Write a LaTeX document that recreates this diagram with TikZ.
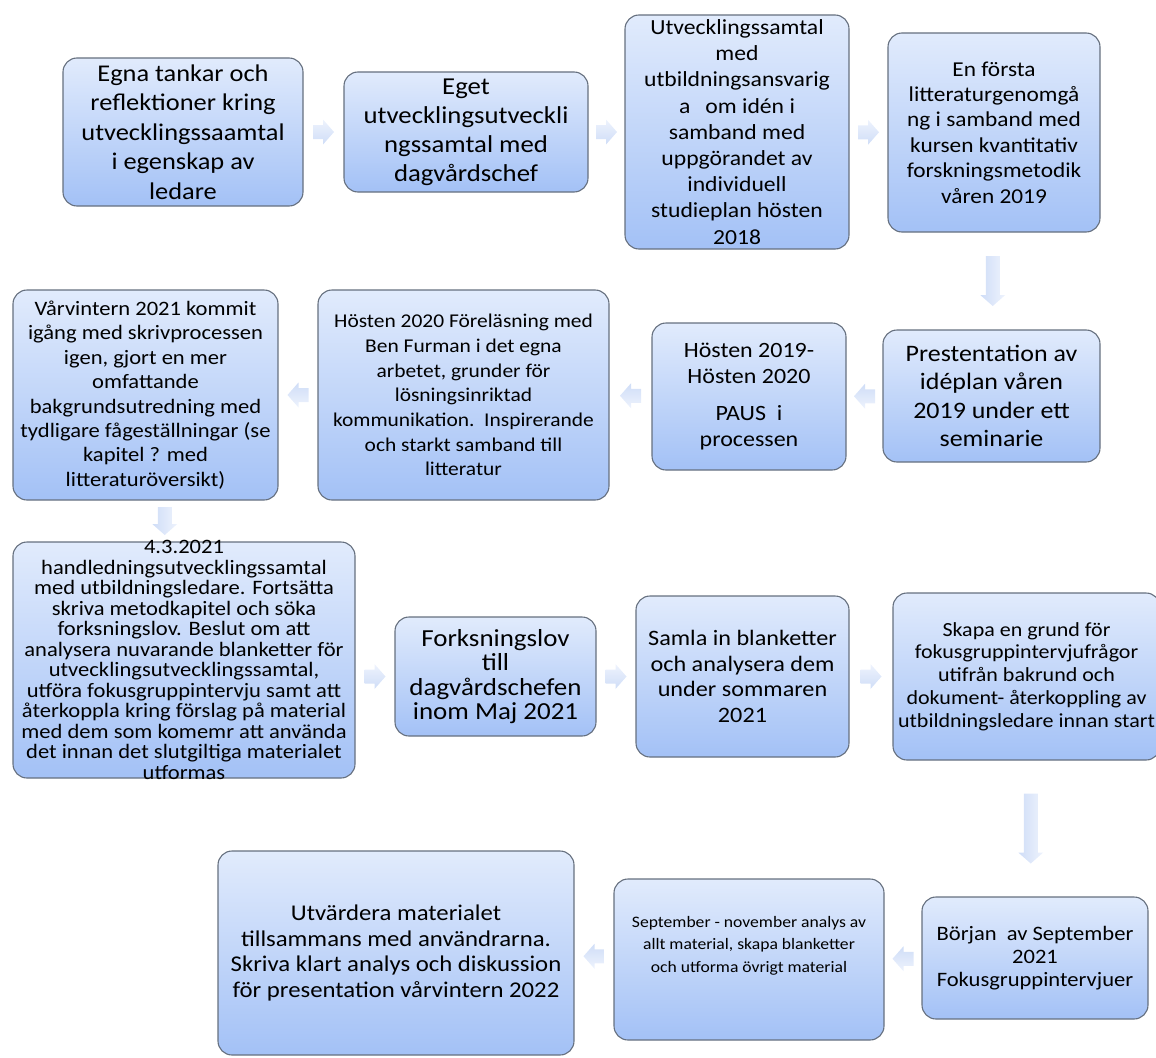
\documentclass[tikz,border=0pt]{standalone}
\usepackage{fontspec}
\setmainfont{Carlito}[FakeStretch=1.1]
\usetikzlibrary{calc}

\definecolor{boxtop}{HTML}{E1EBFC}
\definecolor{boxbot}{HTML}{A3C1F6}
\definecolor{boxline}{HTML}{66707F}
\definecolor{arrowtail}{HTML}{EEF3FD}
\definecolor{arrowhead}{HTML}{CFDDF7}

\newcommand\setfs[2]{\fontsize{#1}{#2}\selectfont}

\tikzset{
  box/.style={draw=boxline, line width=1.1pt, rounded corners=14pt,
    top color=boxtop, bottom color=boxbot, inner sep=0pt},
  txt/.style={align=center, inner sep=0pt, text=black},
  % block arrow of length #1 along +x, centred on the origin;
  % #2 turns the tail-to-head shading to follow the arrow
  pics/blk/.style args={#1/#2}{code={
    \shade[left color=arrowtail, right color=arrowhead, shading angle=#2]
      (-#1/2,-7) -- (#1/2-11,-7) -- (#1/2-11,-12.5) -- (#1/2,0)
      -- (#1/2-11,12.5) -- (#1/2-11,7) -- (-#1/2,7) -- cycle;}}
}

\begin{document}
\begin{tikzpicture}[x=1pt,y=-1pt]
\useasboundingbox (0,0) rectangle (1156,1057);

% ---- boxes ----
\node[box, minimum width=240, minimum height=148] (b1)  at (183,132)    {};
\node[box, minimum width=244, minimum height=120] (b2)  at (466,132)    {};
\node[box, minimum width=224, minimum height=234] (b3)  at (737,132)    {};
\node[box, minimum width=212, minimum height=199] (b4)  at (994,132.5)  {};
\node[box, minimum width=217, minimum height=132] (b5)  at (991.5,396)  {};
\node[box, minimum width=194, minimum height=147] (b6)  at (749,396.5)  {};
\node[box, minimum width=291, minimum height=210] (b7)  at (463.5,395)  {};
\node[box, minimum width=265, minimum height=210] (b8)  at (145.5,395)  {};
\node[box, minimum width=342, minimum height=236] (b9)  at (184,660)    {};
\node[box, minimum width=201, minimum height=119] (b10) at (495.5,676.5){};
\node[box, minimum width=213, minimum height=161] (b11) at (742.5,676.5){};
\node[box, minimum width=267, minimum height=167] (b12) at (1026.5,676.5){};
\node[box, minimum width=226, minimum height=122] (b13) at (1035,958)   {};
\node[box, minimum width=270, minimum height=161] (b14) at (749,959.5)  {};
\node[box, minimum width=356, minimum height=204] (b15) at (396,953)    {};

% ---- texts ----
\node[txt, font=\setfs{24}{29.5}] (t1) at (b1)
  {Egna tankar och\\reflektioner kring\\utvecklingssaamtal\\i egenskap av\\ledare};
\node[txt, font=\setfs{24.3}{29}] (t2) at (b2)
  {Eget\\utvecklingsutveckli\\ngssamtal med\\dagvårdschef};
\node[txt, font=\setfs{21.5}{26.2}] (t3) at (b3)
  {Utvecklingssamtal\\med\\utbildningsansvarig\\a\hspace{0.7em}om idén i\\samband med\\uppgörandet av\\individuell\\studieplan hösten\\2018};
\node[txt, font=\setfs{21.2}{25.4}] (t4) at (b4)
  {En första\\litteraturgenomgå\\ng i samband med\\kursen kvantitativ\\forskningsmetodik\\våren 2019};
\node[txt, font=\setfs{23.6}{28.3}] (t5) at (b5)
  {Prestentation av\\idéplan våren\\2019 under ett\\seminarie};
\node[txt, font=\setfs{21.8}{26}] (t6) at (b6)
  {Hösten 2019-\\Hösten 2020\\[11pt]PAUS\ \ i\\processen};
\node[txt, font=\setfs{19.5}{24.7}] (t7) at (b7)
  {Hösten 2020 Föreläsning med\\Ben Furman i det egna\\arbetet, grunder för\\lösningsinriktad\\kommunikation.\ \ Inspirerande\\och starkt samband till\\litteratur};
\node[txt, font=\setfs{20.5}{24.4}] (t8) at (b8)
  {Vårvintern 2021 kommit\\igång med skrivprocessen\\igen, gjort en mer\\omfattande\\bakgrundsutredning med\\tydligare fågeställningar (se\\kapitel ? med\\litteraturöversikt)};
\node[txt, font=\setfs{20.5}{20.5}] (t9) at (b9)
  {4.3.2021\\handledningsutvecklingssamtal\\med utbildningsledare. Fortsätta\\skriva metodkapitel och söka\\forksningslov. Beslut om att\\analysera nuvarande blanketter för\\utvecklingsutvecklingssamtal,\\utföra fokusgruppintervju samt att\\återkoppla kring förslag på material\\med dem som komemr att använda\\det innan det slutgiltiga materialet\\utformas};
\node[txt, font=\setfs{24.5}{24.5}] (t10) at (b10)
  {Forksningslov\\till\\dagvårdschefen\\inom Maj 2021};
\node[txt, font=\setfs{22}{25.7}] (t11) at (b11)
  {Samla in blanketter\\och analysera dem\\under sommaren\\2021};
\node[txt, font=\setfs{20}{22.8}] (t12) at (b12)
  {Skapa en grund för\\fokusgruppintervjufrågor\\utifrån bakrund och\\dokument- återkoppling av\\utbildningsledare innan start};
\node[txt, font=\setfs{20.5}{22.8}] (t13) at (b13)
  {Början\ \ av September\\2021\\Fokusgruppintervjuer};
\node[txt, font=\setfs{16}{22.5}] (t14) at ($(b14.center)+(0,-14)$)
  {September - november analys av\\allt material, skapa blanketter\\och utforma övrigt material};
\node[txt, font=\setfs{22.5}{25.6}] (t15) at (b15)
  {Utvärdera materialet\\tillsammans med användrarna.\\Skriva klart analys och diskussion\\för presentation vårvintern 2022};

% ---- block arrows between the steps ----
\pic at ($(b1.east)!0.5!(b2.west)$) {blk=21/0};
\pic at ($(b2.east)!0.5!(b3.west)$) {blk=21/0};
\pic at ($(b3.east)!0.5!(b4.west)$) {blk=21/0};
\pic[rotate=-90] at ($(b4.south)!0.5!(b5.north)$) {blk=50/-90};
\pic[rotate=180] at ($(b5.west)!0.5!(b6.east)$) {blk=21/180};
\pic[rotate=180] at ($(b6.west)!0.5!(b7.east)$) {blk=21/180};
\pic[rotate=180] at ($(b7.west)!0.5!(b8.east)$) {blk=21/180};
\pic[rotate=-90] at ($(b8.south)!0.5!(b9.north)$) {blk=28/-90};
\pic at ($(b9.east |- b10.west)!0.5!(b10.west)$) {blk=21/0};
\pic at ($(b10.east)!0.5!(b11.west)$) {blk=21/0};
\pic at ($(b11.east)!0.5!(b12.west)$) {blk=21/0};
\pic[rotate=-90] at ($(b12.south)!0.5!(b13.north)$) {blk=70/-90};
\pic[rotate=180] at ($(b13.west)!0.5!(b14.east)$) {blk=21/180};
\pic[rotate=180] at ($(b14.west)!0.5!(b15.east)$) {blk=21/180};
\end{tikzpicture}
\end{document}
